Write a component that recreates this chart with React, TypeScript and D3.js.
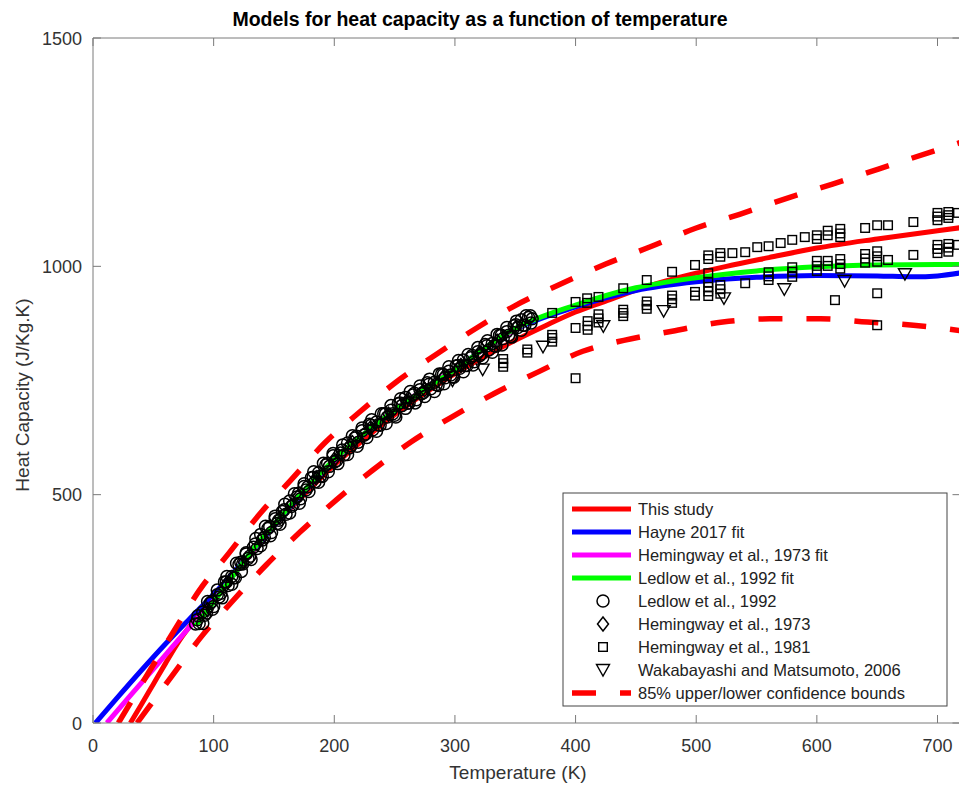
import React from 'react';
import * as d3 from 'd3';

const title = 'Models for heat capacity as a function of temperature';
const xLabel = 'Temperature (K)';
const yLabel = 'Heat Capacity (J/Kg.K)';
const xTicks = [0, 100, 200, 300, 400, 500, 600, 700];
const yTicks = [0, 500, 1000, 1500];

// Fitted models
const thisStudyT = [31, 40, 50, 60, 72, 85, 100, 115, 130, 150, 175, 200, 225, 250, 275, 300, 325, 350, 375, 400, 425, 450, 475, 500, 525, 560, 600, 650, 700, 720];
const thisStudyCp = [0, 40, 85, 130, 182, 228, 275, 322, 368, 432, 500, 565, 622, 675, 722, 765, 803, 838, 870, 900, 924, 948, 968, 985, 1000, 1019, 1040, 1060, 1078, 1085];

const hayneT = [2, 20, 40, 60, 80, 100, 130, 160, 200, 250, 300, 350, 400, 450, 500, 550, 600, 650, 680, 700, 720];
const hayneCp = [0, 55, 115, 173, 228, 282, 370, 462, 575, 685, 775, 862, 911, 947, 966, 976, 980, 979, 977, 979, 986];

const hem73FitT = [11.5, 30, 50, 78, 100, 130, 160, 200, 250, 300, 350, 360];
const hem73FitCp = [0, 57, 118, 204, 268, 370, 465, 576, 686, 776, 862, 878];

const ledlowFitT = [85, 100, 130, 160, 200, 250, 300, 350, 400, 450, 500, 550, 600, 650, 700, 720];
const ledlowFitCp = [213, 265, 371, 465, 577, 685, 774, 864, 915, 953, 975, 990, 999, 1003, 1004, 1004];

const upperT = [21, 46, 67, 88, 113, 138, 164, 192, 221, 250, 285, 318, 350, 389, 425, 463, 500, 536, 575, 613, 651, 700, 720];
const upperCp = [0, 110, 201, 290, 373, 457, 532, 613, 681, 744, 808, 865, 914, 963, 1005, 1044, 1084, 1114, 1149, 1180, 1213, 1255, 1272];

const lowerT = [36.5, 65.5, 89.5, 115, 143.5, 171.6, 201.5, 232, 264.5, 298, 333, 370, 406, 440, 480, 522, 561, 603, 642, 680, 720];
const lowerCp = [0, 103, 188, 265, 346, 418, 488, 554, 617, 671, 722, 770, 814, 838, 858, 878, 885, 885, 878, 871, 859];

// Measurements
const ledlowT = [85, 88, 91, 94, 97, 100, 103, 106, 109, 112, 115, 118, 121, 124, 127, 130, 133, 136, 139, 142, 145, 148, 151, 154, 157, 160, 163, 166, 169, 172, 175, 178, 181, 184, 187, 190, 193, 196, 199, 202, 205, 208, 211, 214, 217, 220, 223, 226, 229, 232, 235, 238, 241, 244, 247, 250, 253, 256, 259, 262, 265, 268, 271, 274, 277, 280, 283, 286, 289, 292, 295, 298, 301, 304, 307, 310, 313, 316, 319, 322, 325, 328, 331, 334, 337, 340, 343, 346, 349, 352, 355, 358, 361, 364,
  86.5, 92.5, 98.5, 104.5, 110.5, 116.5, 122.5, 128.5, 134.5, 140.5, 146.5, 152.5, 158.5, 164.5, 170.5, 176.5, 182.5, 188.5, 194.5, 200.5, 206.5, 212.5, 218.5, 224.5, 230.5, 236.5, 242.5, 248.5, 254.5, 260.5, 266.5, 272.5, 278.5, 284.5, 290.5, 296.5, 302.5, 308.5, 314.5, 320.5, 326.5, 332.5, 338.5, 344.5, 350.5, 356.5, 362.5,
  87, 91, 95, 99, 103, 107, 111, 115, 119, 123, 127, 131, 135, 139, 143, 147, 151, 155, 159, 163, 167, 171, 175, 179, 183, 187, 191, 195, 199, 203, 207, 211, 215, 219, 223, 227, 231, 235, 239, 243, 247, 251, 255, 259, 263, 267, 271, 275, 279, 283, 287, 291, 295, 299, 303, 307, 311, 315, 319, 323, 327, 331, 335, 339, 343, 347, 351, 355, 359, 363];
const ledlowCp = [217, 218, 243, 241, 262, 255, 281, 284, 309, 301, 321, 318, 347, 348, 370, 365, 385, 382, 413, 407, 426, 417, 447, 444, 463, 457, 486, 478, 495, 491, 518, 517, 537, 528, 548, 540, 565, 562, 585, 575, 591, 587, 613, 607, 624, 615, 640, 633, 654, 642, 659, 652, 677, 670, 685, 674, 699, 695, 713, 701, 718, 708, 730, 724, 745, 732, 746, 739, 764, 756, 770, 758, 782, 777, 795, 783, 800, 791, 813, 808, 829, 817, 831, 825, 849, 842, 857, 846, 870, 866, 883, 871, 888, 885,
  226, 236, 266, 276, 309, 318, 352, 360, 392, 401, 430, 437, 467, 474, 503, 510, 538, 541, 569, 572, 598, 602, 628, 630, 652, 653, 677, 677, 701, 700, 722, 721, 742, 741, 763, 762, 783, 783, 805, 804, 826, 826, 849, 849, 872, 871, 892,
  235, 218, 266, 249, 291, 274, 321, 304, 350, 332, 373, 358, 404, 388, 431, 410, 453, 435, 479, 460, 502, 481, 524, 507, 550, 527, 569, 550, 590, 568, 609, 588, 629, 606, 646, 625, 664, 639, 677, 656, 695, 670, 710, 689, 726, 701, 738, 715, 753, 726, 764, 743, 780, 757, 794, 769, 807, 784, 822, 800, 837, 812, 851, 828, 866, 845, 880, 860, 892, 876];

const hem73T = [95, 110, 125, 140, 155, 170, 185, 200, 215, 230, 245, 260, 275, 290, 305, 320, 335, 350];
const hem73Cp = [248, 303, 352, 404, 450, 496, 537, 577, 614, 646, 676, 705, 730, 756, 783, 809, 836, 864];

const hem81T = [340, 340, 340, 360, 360, 380.6, 380.6, 380.6, 380.6, 400, 400, 400, 409.6, 409.6, 410, 410, 410, 419, 419, 419, 419, 439.5, 439.5, 439.5, 439.5, 459, 459, 459, 459, 480, 480, 480, 480, 499, 499, 499,
  510, 510, 510, 510, 510, 510, 510, 520, 520, 520, 520, 520, 530, 540.6, 540.6, 550.6, 560, 560, 560, 560, 570, 579.6, 579.6, 579.6, 579.6, 590, 600, 600, 600, 600, 600, 609, 609, 609, 609, 615,
  619.4, 619.4, 619.4, 619.4, 619.4, 619.4, 640, 640, 640, 640, 650, 650, 650, 650, 650, 650, 659, 659, 680, 680, 700, 700, 700, 700, 700, 700, 709, 709, 709, 709, 709, 709, 717, 717];
const hem81Cp = [780, 788, 797, 811, 818, 898, 835, 843, 850, 922, 865, 755, 920, 930, 861, 870, 880, 933, 877, 886, 895, 952, 891, 898, 905, 970, 907, 915, 923, 988, 920, 928, 936, 1003, 944, 936,
  1016, 1024, 985, 965, 955, 945, 935, 1021, 1029, 959, 950, 940, 1029, 1031, 963, 1042, 1044, 987, 978, 970, 1051, 1058, 998, 988, 977, 1064, 1068, 1060, 1012, 1001, 990, 1078, 1068, 1012, 1001, 926,
  1082, 1072, 1064, 1016, 1005, 995, 1084, 1027, 1017, 1008, 1090, 1033, 1022, 1010, 941, 871, 1090, 1014, 1097, 1025, 1117, 1109, 1101, 1047, 1038, 1029, 1119, 1112, 1106, 1049, 1041, 1032, 1117, 1047];

const wakaT = [298, 323, 373, 423, 473, 523, 573, 623, 673];
const wakaCp = [752, 776, 826, 871, 904, 932, 952, 970, 985];

const legendLabels = [
  'This study',
  'Hayne 2017 fit',
  'Hemingway et al., 1973 fit',
  'Ledlow et al., 1992 fit',
  'Ledlow et al., 1992',
  'Hemingway et al., 1973',
  'Hemingway et al., 1981',
  'Wakabayashi and Matsumoto, 2006',
  '85% upper/lower confidence bounds',
];

const FONT = 'Liberation Sans, Arial, Helvetica, sans-serif';
const RED = '#ff0000', BLUE = '#0000ff', MAG = '#ff00ff', GREEN = '#00ff00';

function zip(a: number[], b: number[]): [number, number][] {
  return a.map((v, i) => [v, b[i]] as [number, number]);
}

export default function App() {
  const left = 93, right = 960.5, top = 38, bottom = 723;
  const x = d3.scaleLinear().domain([0, 700]).range([93, 937.5]);
  const y = d3.scaleLinear().domain([0, 1500]).range([bottom, top]);
  const line = d3.line<[number, number]>().x(d => x(d[0])).y(d => y(d[1])).curve(d3.curveMonotoneX);

  const solid = [
    { d: zip(thisStudyT, thisStudyCp), c: RED },
    { d: zip(hayneT, hayneCp), c: BLUE },
    { d: zip(hem73FitT, hem73FitCp), c: MAG },
    { d: zip(ledlowFitT, ledlowFitCp), c: GREEN },
  ];
  const dashed = [zip(upperT, upperCp), zip(lowerT, lowerCp)];

  const circle = (cx: number, cy: number, k: string) => (
    <circle key={k} cx={cx} cy={cy} r={6} fill="none" stroke="#000" strokeWidth={1.5} />
  );
  const diamond = (cx: number, cy: number, k: string) => (
    <path key={k} d={`M${cx},${cy - 7}L${cx + 5.5},${cy}L${cx},${cy + 7}L${cx - 5.5},${cy}Z`} fill="none" stroke="#000" strokeWidth={1.5} />
  );
  const square = (cx: number, cy: number, k: string) => (
    <rect key={k} x={cx - 4.3} y={cy - 4.3} width={8.6} height={8.6} fill="none" stroke="#000" strokeWidth={1.4} />
  );
  const tri = (cx: number, cy: number, k: string) => (
    <path key={k} d={`M${cx - 6.5},${cy - 4.5}L${cx + 6.5},${cy - 4.5}L${cx},${cy + 7}Z`} fill="none" stroke="#000" strokeWidth={1.4} />
  );

  const legX = 563, legY = 493, legW = 384, legH = 213;
  const rowY = (i: number) => 509 + i * 23;

  return (
    <svg width={959} height={786} style={{ position: 'absolute', left: 0, top: 0, display: 'block', background: '#fff' }} fontFamily={FONT}>
      <defs>
        <clipPath id="plotclip">
          <rect x={left} y={top} width={right - left} height={bottom - top} />
        </clipPath>
      </defs>
      <rect x={0} y={0} width={959} height={786} fill="#fff" />

      <g clipPath="url(#plotclip)">
        {solid.map((s, i) => (
          <path key={'s' + i} d={line(s.d) || ''} fill="none" stroke={s.c} strokeWidth={5} strokeLinejoin="round" />
        ))}
        {dashed.map((dd, i) => (
          <path key={'d' + i} d={line(dd) || ''} fill="none" stroke={RED} strokeWidth={5.5} strokeDasharray="24 24" />
        ))}
        {ledlowT.map((t, i) => circle(x(t), y(ledlowCp[i]), 'c' + i))}
        {hem73T.map((t, i) => diamond(x(t), y(hem73Cp[i]), 'h' + i))}
        {hem81T.map((t, i) => square(x(t), y(hem81Cp[i]), 'q' + i))}
        {wakaT.map((t, i) => tri(x(t), y(wakaCp[i]), 'w' + i))}
      </g>

      {/* axes frame */}
      <g stroke="#7a7a7a" strokeWidth={1} fill="none">
        <line x1={left} y1={top} x2={left} y2={bottom} />
        <line x1={left} y1={bottom} x2={right} y2={bottom} />
        <line x1={left} y1={top} x2={right} y2={top} />
        {xTicks.map(t => (
          <g key={'xt' + t}>
            <line x1={x(t)} x2={x(t)} y1={bottom} y2={bottom - 8} />
            <line x1={x(t)} x2={x(t)} y1={top} y2={top + 8} />
          </g>
        ))}
        {yTicks.map(t => (
          <g key={'yt' + t}>
            <line x1={left} x2={left + 8} y1={y(t)} y2={y(t)} />
            <line x1={right} x2={right - 8} y1={y(t)} y2={y(t)} />
          </g>
        ))}
      </g>
      <g fill="#333" fontSize={18}>
        {xTicks.map(t => (
          <text key={'xl' + t} x={x(t)} y={752} textAnchor="middle">{t}</text>
        ))}
        {yTicks.map(t => (
          <text key={'yl' + t} x={82} y={y(t) + 6.5} textAnchor="end">{t}</text>
        ))}
      </g>
      <text x={518} y={779} textAnchor="middle" fontSize={19} fill="#333">{xLabel}</text>
      <text transform={`translate(29,395) rotate(-90)`} textAnchor="middle" fontSize={19} fill="#333">{yLabel}</text>
      <text x={480} y={26} textAnchor="middle" fontSize={19.5} fontWeight="bold" fill="#000">{title}</text>

      {/* legend */}
      <g>
        <rect x={legX} y={legY} width={legW} height={legH} fill="#fff" stroke="#444" strokeWidth={1} />
        {[RED, BLUE, MAG, GREEN].map((c, i) => (
          <line key={'ll' + i} x1={572} x2={631} y1={rowY(i)} y2={rowY(i)} stroke={c} strokeWidth={5} />
        ))}
        {circle(603, rowY(4), 'lc')}
        {diamond(603, rowY(5), 'ld')}
        {square(603, rowY(6), 'ls')}
        {tri(603, rowY(7) - 1, 'lt')}
        <line x1={572} x2={631} y1={rowY(8)} y2={rowY(8)} stroke={RED} strokeWidth={5.5} strokeDasharray="24 24" />
        {legendLabels.map((s, i) => (
          <text key={'lt' + i} x={638} y={rowY(i) + 6} fontSize={16.5} fill="#222">{s}</text>
        ))}
      </g>
    </svg>
  );
}
